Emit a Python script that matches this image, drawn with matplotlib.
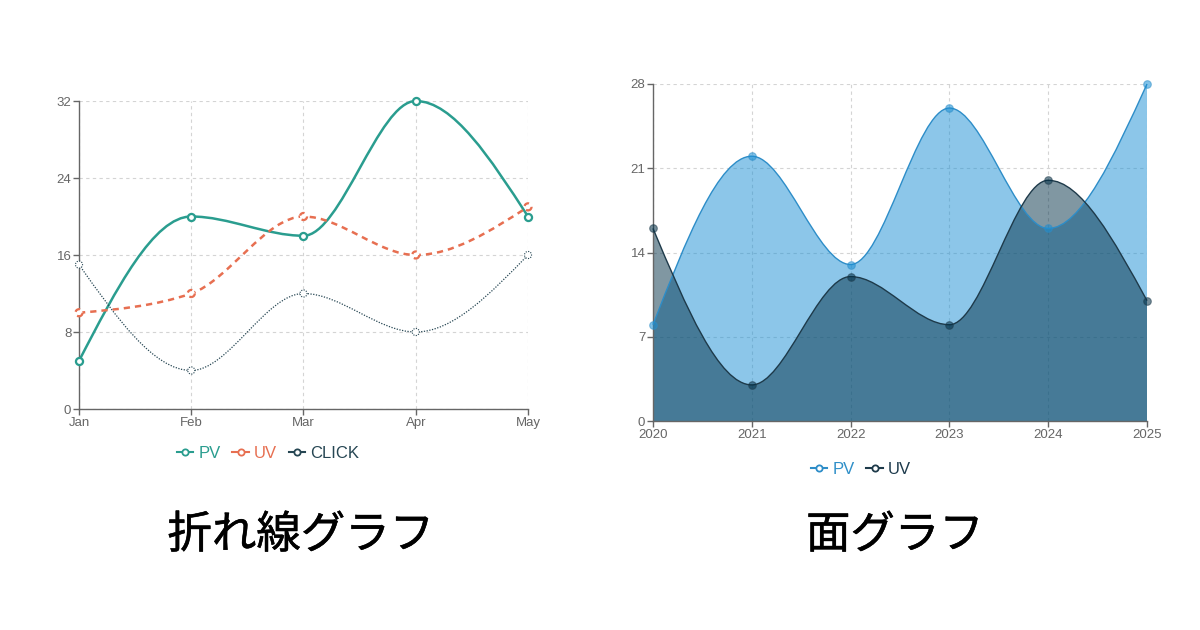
import matplotlib.pyplot as plt
import matplotlib.patheffects as pe
import numpy as np
from matplotlib.path import Path
from matplotlib.patches import PathPatch
from matplotlib.lines import Line2D

plt.rcParams['font.family'] = ['Liberation Sans', 'DejaVu Sans']

# left chart: line
months = ['Jan', 'Feb', 'Mar', 'Apr', 'May']
line_pv = [5, 20, 18, 32, 20]
line_uv = [10, 12, 20, 16, 21]
line_click = [15, 4, 12, 8, 16]
line_yticks = [0, 8, 16, 24, 32]

# right chart: area
years = ['2020', '2021', '2022', '2023', '2024', '2025']
area_pv = [8, 22, 13, 26, 16, 28]
area_uv = [16, 3, 12, 8, 20, 10]
area_yticks = [0, 7, 14, 21, 28]

GRAY = '#666666'


def monotone(x, y):
    # bezier path like d3 curveMonotoneX
    x = np.asarray(x, float)
    y = np.asarray(y, float)
    n = len(x)
    h = np.diff(x)
    s = np.diff(y) / h
    t = np.zeros(n)
    for i in range(1, n - 1):
        p = (s[i - 1] * h[i] + s[i] * h[i - 1]) / (h[i - 1] + h[i])
        t[i] = (np.sign(s[i - 1]) + np.sign(s[i])) * min(abs(s[i - 1]), abs(s[i]), 0.5 * abs(p))
    t[0] = (3 * s[0] - t[1]) / 2
    t[-1] = (3 * s[-1] - t[-2]) / 2
    verts = [(x[0], y[0])]
    codes = [Path.MOVETO]
    for i in range(n - 1):
        d = h[i] / 3
        verts += [(x[i] + d, y[i] + d * t[i]), (x[i + 1] - d, y[i + 1] - d * t[i + 1]), (x[i + 1], y[i + 1])]
        codes += [Path.CURVE4] * 3
    return verts, codes


def style_axes(ax, labels, yticks):
    ax.set_xlim(0, len(labels) - 1)
    ax.set_ylim(yticks[0], yticks[-1])
    ax.set_xticks(range(len(labels)))
    ax.set_xticklabels(labels)
    ax.set_yticks(yticks)
    for sp in ['top', 'right']:
        ax.spines[sp].set_visible(False)
    for sp in ['left', 'bottom']:
        ax.spines[sp].set_color(GRAY)
        ax.spines[sp].set_linewidth(1)
    ax.tick_params(colors=GRAY, labelcolor=GRAY, length=4, width=1, labelsize=9.5, pad=1.5)
    ax.grid(True, color='#d4d4d4', linestyle=(0, (3, 3)), lw=0.8)
    ax.set_axisbelow(True)


fig = plt.figure(figsize=(12, 6.3), dpi=100)

# ---- line chart
ax1 = fig.add_axes([79 / 1200, 1 - 409 / 630, 449 / 1200, 308 / 630])
style_axes(ax1, months, line_yticks)
xs = np.arange(len(months))
series = [
    ('PV', line_pv, '#2a9d8f', '-', 1.8),
    ('UV', line_uv, '#e76f51', (0, (2.5, 2)), 1.8),
    ('CLICK', line_click, '#264653', (0, (1, 1.2)), 0.9),
]
handles = []
for name, vals, col, ls, lw in series:
    v, c = monotone(xs, vals)
    ax1.add_patch(PathPatch(Path(v, c), fill=False, edgecolor=col, lw=lw, linestyle=ls, zorder=2, clip_on=False))
    ax1.scatter(xs, vals, s=26, facecolor='white', edgecolor=col, linewidths=lw * 0.9,
                linestyles=ls, zorder=3, clip_on=False)
    handles.append(Line2D([], [], color=col, lw=1.5, marker='o', markersize=4.5,
                          markerfacecolor='white', markeredgewidth=1.3, label=name))
leg = ax1.legend(handles=handles, loc='center', bbox_to_anchor=(268 / 1200, 1 - 453 / 630),
                 bbox_transform=fig.transFigure, ncol=3, frameon=False, fontsize=12,
                 handlelength=1.0, handletextpad=0.3, columnspacing=0.7)
for txt, (_, _, col, _, _) in zip(leg.get_texts(), series):
    txt.set_color(col)

# ---- area chart
ax2 = fig.add_axes([653 / 1200, 1 - 421 / 630, 494 / 1200, 337 / 630])
style_axes(ax2, years, area_yticks)
xs = np.arange(len(years))
areas = [
    ('PV', area_pv, '#1a8fd4', '#2d8dc8', '#2f8fc8'),
    ('UV', area_uv, '#023047', '#1e3a4a', '#1d3a4c'),
]
handles = []
for name, vals, fillc, linec, txtc in areas:
    v, c = monotone(xs, vals)
    av = v + [(xs[-1], 0), (xs[0], 0), (xs[0], 0)]
    ac = c + [Path.LINETO, Path.LINETO, Path.CLOSEPOLY]
    ax2.add_patch(PathPatch(Path(av, ac), facecolor=fillc, alpha=0.5, edgecolor='none', zorder=2))
    ax2.add_patch(PathPatch(Path(v, c), fill=False, edgecolor=linec, lw=1.0, zorder=3, clip_on=False))
    ax2.scatter(xs, vals, s=30, color=fillc, alpha=0.55, edgecolor=linec, linewidths=0.8,
                zorder=4, clip_on=False)
    handles.append(Line2D([], [], color=linec, lw=1.5, marker='o', markersize=4.5,
                          markerfacecolor='white', markeredgewidth=1.3, label=name))
leg2 = ax2.legend(handles=handles, loc='center', bbox_to_anchor=(861 / 1200, 1 - 469 / 630),
                  bbox_transform=fig.transFigure, ncol=2, frameon=False, fontsize=12,
                  handlelength=1.0, handletextpad=0.3, columnspacing=0.7)
for txt, a in zip(leg2.get_texts(), areas):
    txt.set_color(a[4])

# ---- captions
heavier = [pe.withStroke(linewidth=0.4, foreground='black')]
fig.text(301 / 1200, 1 - 535 / 630, '折れ線グラフ', fontsize=32, ha='center', va='center',
         family=['Noto Sans CJK JP', 'DejaVu Sans'], color='black', path_effects=heavier)
fig.text(895 / 1200, 1 - 535 / 630, '面グラフ', fontsize=32, ha='center', va='center',
         family=['Noto Sans CJK JP', 'DejaVu Sans'], color='black', path_effects=heavier)

fig.savefig('out.png', dpi=100, facecolor='white')
